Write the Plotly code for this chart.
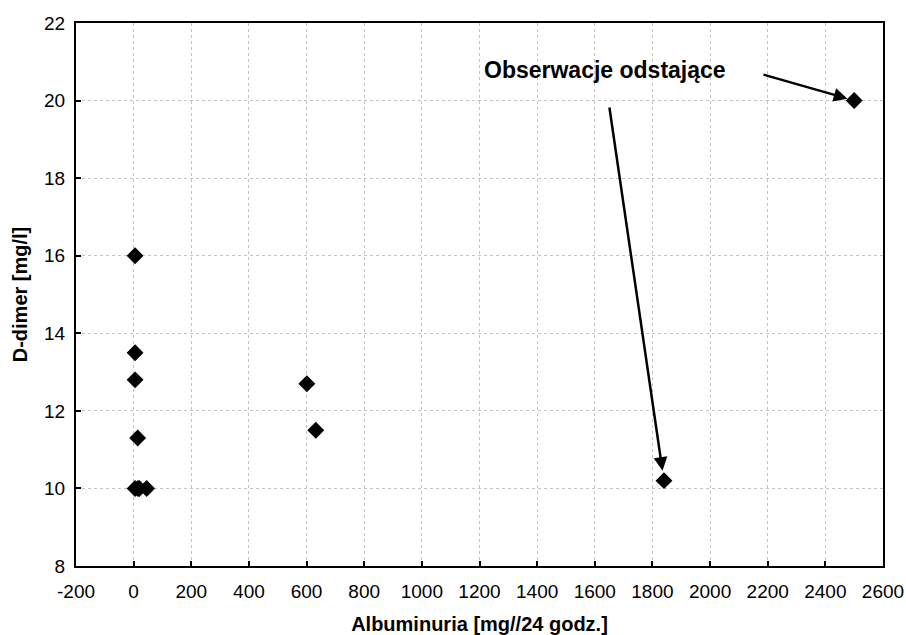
import plotly.graph_objects as go

albuminuria = [5, 5, 5, 14, 5, 15, 20, 45, 601, 632, 1840, 2500]
d_dimer = [16.0, 13.5, 12.8, 11.3, 10.0, 10.0, 10.0, 10.0, 12.7, 11.5, 10.2, 20.0]

x_ticks = list(range(-200, 2601, 200))
y_ticks = list(range(8, 23, 2))

FONT = "Arial, 'Liberation Sans', sans-serif"

fig = go.Figure()
fig.add_trace(go.Scatter(
    x=albuminuria, y=d_dimer, mode="markers",
    marker=dict(symbol="diamond", size=13, color="black", line=dict(width=0)),
    showlegend=False, cliponaxis=False,
))

axis_common = dict(
    showline=True, linecolor="black", linewidth=2, mirror=True,
    showgrid=True, gridcolor="#c4c4c4", gridwidth=1, griddash="dot",
    zeroline=False, ticks="inside", ticklen=5, tickcolor="black", tickwidth=1.5,
    tickfont=dict(family=FONT, size=19, color="black"), automargin=False,
)

fig.update_xaxes(range=[-200, 2600], tickvals=x_ticks, ticktext=[str(v) for v in x_ticks],
                 ticklabelstandoff=7,
                 title=dict(text="<b>Albuminuria [mg//24 godz.]</b>", standoff=18,
                            font=dict(family=FONT, size=20, color="black")),
                 **axis_common)
fig.update_yaxes(range=[8, 22], tickvals=y_ticks, ticktext=[str(v) for v in y_ticks],
                 ticklabelstandoff=5,
                 title=dict(text="<b>D-dimer [mg/l]</b>", standoff=11,
                            font=dict(family=FONT, size=20, color="black")),
                 **axis_common)

label = "Obserwacje odstające"
fig.add_annotation(x=1636, y=20.8, xref="x", yref="y", text="<b>" + label + "</b>",
                   showarrow=False, font=dict(family=FONT, size=23, color="black"))
# arrows to outliers
fig.add_annotation(x=albuminuria[11], y=d_dimer[11], xref="x", yref="y",
                   ax=2180, ay=20.68, axref="x", ayref="y", text="",
                   showarrow=True, arrowhead=2, arrowsize=1.1, arrowwidth=2.5, arrowcolor="black", standoff=7)
fig.add_annotation(x=albuminuria[10], y=d_dimer[10], xref="x", yref="y",
                   ax=1650, ay=19.86, axref="x", ayref="y", text="",
                   showarrow=True, arrowhead=2, arrowsize=1.1, arrowwidth=2.5, arrowcolor="black", standoff=10)

fig.update_layout(
    width=906, height=635,
    margin=dict(l=76, r=23, t=23, b=69),
    plot_bgcolor="white", paper_bgcolor="white",
    font=dict(family=FONT, color="black"),
)

fig.write_html("out.html")
